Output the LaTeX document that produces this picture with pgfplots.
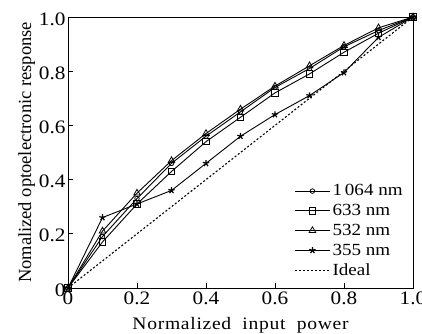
\documentclass[border=0pt]{standalone}
\usepackage{fontspec}
\setmainfont{Liberation Serif}
\newfontfamily\tfont[FakeStretch=1.12]{Liberation Serif}
\newfontfamily\yfont{Liberation Serif}
\newfontfamily\xfont[FakeStretch=1.12, LetterSpace=4]{Liberation Serif}
\usepackage{pgfplots}
\pgfplotsset{compat=1.18}
\begin{document}
\begin{tikzpicture}
\begin{axis}[
  scale only axis,
  width=345pt, height=271pt,
  xmin=0, xmax=1, ymin=0, ymax=1,
  axis line style={line width=0.9pt},
  xtick={0,0.2,0.4,0.6,0.8,1.0},
  xticklabels={0,0.2,0.4,0.6,0.8,1.0},
  ytick={0,0.2,0.4,0.6,0.8,1.0},
  yticklabels={0,0.2,0.4,0.6,0.8,1.0},
  tick align=inside,
  xtick pos=bottom, ytick pos=left,
  major tick length=5pt,
  tick style={line width=0.9pt, black},
  /pgf/number format/assume math mode=true,
  tick label style={font=\tfont\fontsize{19}{21}\selectfont},
  xticklabel style={yshift=0pt},
  yticklabel style={xshift=1pt, yshift=-2pt},
  xlabel={\xfont\fontsize{17.5}{20}\selectfont Normalized\ \ input\ \ power},
  ylabel={\yfont\fontsize{18.5}{20}\selectfont Nomalized optoelectronic response},
  xlabel style={yshift=-6pt},
  ylabel style={yshift=-3pt},
  legend style={draw=none, fill=none, at={(0.985,0.025)}, anchor=south east,
    font=\tfont\fontsize{17}{19}\selectfont, row sep=3pt,
    /tikz/every even column/.append style={column sep=1pt}},
  legend cell align=left,
  legend image code/.code={\draw[mark repeat=2,mark phase=2,#1] plot coordinates {(0cm,0cm)(0.62cm,0cm)(1.24cm,0cm)};},
  every axis plot/.append style={black, line width=0.9pt},
  clip=false,
]
\addplot[mark=o, mark size=2.3pt, mark options={solid, fill=white, line width=0.8pt}] coordinates {
(0,0)(0.1,0.19)(0.2,0.33)(0.3,0.46)(0.4,0.56)(0.5,0.65)(0.6,0.74)(0.7,0.81)(0.8,0.89)(0.9,0.95)(1,1)};
\addlegendentry{1\,064 nm}
\addplot[mark=square, mark size=3.2pt, mark options={solid, fill=white, line width=0.8pt}] coordinates {
(0,0)(0.1,0.17)(0.2,0.31)(0.3,0.43)(0.4,0.54)(0.5,0.63)(0.6,0.72)(0.7,0.79)(0.8,0.87)(0.9,0.94)(1,1)};
\addlegendentry{633 nm}
\addplot[mark=triangle, mark size=3.8pt, mark options={solid, fill=white, line width=0.8pt}] coordinates {
(0,0)(0.1,0.21)(0.2,0.35)(0.3,0.47)(0.4,0.57)(0.5,0.66)(0.6,0.745)(0.7,0.82)(0.8,0.895)(0.9,0.96)(1,1)};
\addlegendentry{532 nm}
\addplot[mark=star, mark size=3.3pt, mark options={solid, line width=1.2pt}] coordinates {
(0,0)(0.1,0.26)(0.2,0.31)(0.3,0.36)(0.4,0.46)(0.5,0.56)(0.6,0.64)(0.7,0.71)(0.8,0.795)(0.9,0.925)(1,1)};
\addlegendentry{355 nm}
\addplot[no marks, line width=1.1pt, dash pattern=on 2pt off 2pt] coordinates {(0,0)(1,1)};
\addlegendentry{Ideal}
\coordinate (bl) at (rel axis cs:0,0);
\coordinate (tr) at (rel axis cs:1,1);
\end{axis}
\pgfresetboundingbox
\path (bl) ++(-68pt,-45pt) coordinate (a);
\path (tr) ++(9pt,17pt) coordinate (b);
\path[use as bounding box] (a) rectangle (b);
\end{tikzpicture}
\end{document}
